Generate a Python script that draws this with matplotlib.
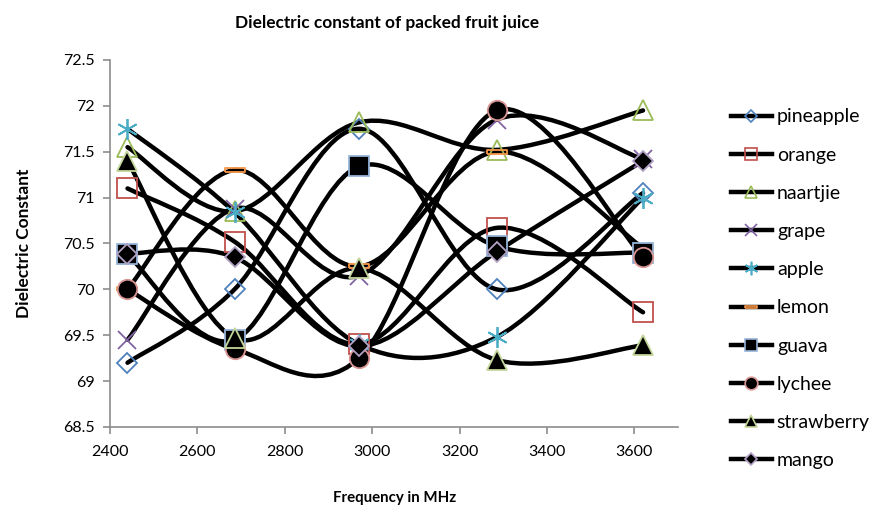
import numpy as np
import matplotlib
matplotlib.use('Agg')
import matplotlib.pyplot as plt
from matplotlib.path import Path
from matplotlib.patches import PathPatch
from matplotlib.lines import Line2D

plt.rcParams['font.family'] = ['Lato', 'DejaVu Sans']

# frequencies (MHz)
freq = [2440, 2685, 2970, 3285, 3620]

pineapple = [69.20, 70.00, 71.75, 70.00, 71.05]
orange = [71.10, 70.52, 69.40, 70.67, 69.75]
naartjie = [71.55, 70.85, 71.82, 71.52, 71.95]
grape = [69.45, 70.88, 70.15, 71.85, 71.42]
apple = [71.75, 70.84, 69.40, 69.48, 71.00]
lemon = [70.00, 71.30, 70.25, 71.50, 70.45]
guava = [70.38, 69.45, 71.34, 70.47, 70.40]
lychee = [70.00, 69.35, 69.25, 71.95, 70.35]
strawberry = [71.40, 69.47, 70.23, 69.23, 69.39]
mango = [70.39, 70.35, 69.38, 70.41, 71.40]

names = ['pineapple', 'orange', 'naartjie', 'grape', 'apple',
         'lemon', 'guava', 'lychee', 'strawberry', 'mango']
series = [pineapple, orange, naartjie, grape, apple,
          lemon, guava, lychee, strawberry, mango]

# flat dash marker used by Excel for "lemon"
dash = [(-1, -0.22), (1, -0.22), (1, 0.22), (-1, 0.22), (-1, -0.22)]

# marker style per series: (marker, size, facecolor, edgecolor)
styles = [
    ('D', 10, 'none', '#4F81BD'),
    ('s', 14, 'none', '#C0504D'),
    ('^', 14, 'none', '#9BBB59'),
    ('x', 13, 'none', '#8064A2'),
    ((6, 2, 0), 15, 'none', '#4BACC6'),
    (dash, 14, 'none', '#F79646'),
    ('s', 14, 'black', '#95B3D7'),
    ('o', 14, 'black', '#D99694'),
    ('^', 14, 'black', '#C3D69B'),
    ('D', 10, 'black', '#B3A2C7'),
]


def smooth_path(xs, ys):
    # Excel style smoothed line: cubic Bezier through points (Catmull-Rom)
    p = np.column_stack([xs, ys]).astype(float)
    pts = np.vstack([p[0], p, p[-1]])
    verts = [tuple(p[0])]
    codes = [Path.MOVETO]
    for i in range(1, len(pts) - 2):
        c1 = pts[i] + (pts[i + 1] - pts[i - 1]) / 6
        c2 = pts[i + 1] - (pts[i + 2] - pts[i]) / 6
        verts += [tuple(c1), tuple(c2), tuple(pts[i + 1])]
        codes += [Path.CURVE4] * 3
    return Path(verts, codes)


fig = plt.figure(figsize=(8.88, 5.14), dpi=100)
ax = fig.add_axes([0.1239, 0.1693, 0.6396, 0.714])

for vals in series:
    ax.add_patch(PathPatch(smooth_path(freq, vals), facecolor='none',
                           edgecolor='black', lw=3.2, capstyle='round',
                           joinstyle='round', zorder=2))

handles = []
for name, vals, (m, ms, fc, ec) in zip(names, series, styles):
    ax.plot(freq, vals, linestyle='none', marker=m, markersize=ms,
            markerfacecolor=fc, markeredgecolor=ec, markeredgewidth=1.3,
            zorder=3)
    handles.append(Line2D([], [], color='black', lw=3.2, marker=m,
                          markersize=ms * 0.65, markerfacecolor=fc,
                          markeredgecolor=ec, markeredgewidth=1.2,
                          label=name))

ax.set_xlim(2400, 3700)
ax.set_ylim(68.5, 72.5)
ax.set_xticks([2400, 2600, 2800, 3000, 3200, 3400, 3600])
ax.set_yticks([68.5, 69, 69.5, 70, 70.5, 71, 71.5, 72, 72.5])
ax.set_yticklabels(['68.5', '69', '69.5', '70', '70.5', '71', '71.5', '72', '72.5'])

for s in ['top', 'right']:
    ax.spines[s].set_visible(False)
for s in ['left', 'bottom']:
    ax.spines[s].set_color('#8C8C8C')
    ax.spines[s].set_linewidth(1.2)
ax.tick_params(axis='both', colors='#8C8C8C', labelcolor='black',
               labelsize=11.5, length=5, width=1.2)
ax.tick_params(axis='x', pad=8)
ax.tick_params(axis='y', pad=6)

fig.text(0.436, 0.955, 'Dielectric constant of packed fruit juice',
         ha='center', va='center', fontsize=12.4, fontweight='bold')
fig.text(0.444, 0.031, 'Frequency in MHz', ha='center', va='center',
         fontsize=10.8, fontweight='bold')
fig.text(0.027, 0.527, 'Dielectric Constant', ha='center', va='center',
         rotation=90, fontsize=12.5, fontweight='bold')

fig.legend(handles=handles, loc='upper left', bbox_to_anchor=(0.8232, 0.789),
           frameon=False, fontsize=14, handlelength=2.1,
           handletextpad=0.26, labelspacing=1.09, borderpad=0,
           borderaxespad=0)

fig.savefig('out.png', dpi=100)
